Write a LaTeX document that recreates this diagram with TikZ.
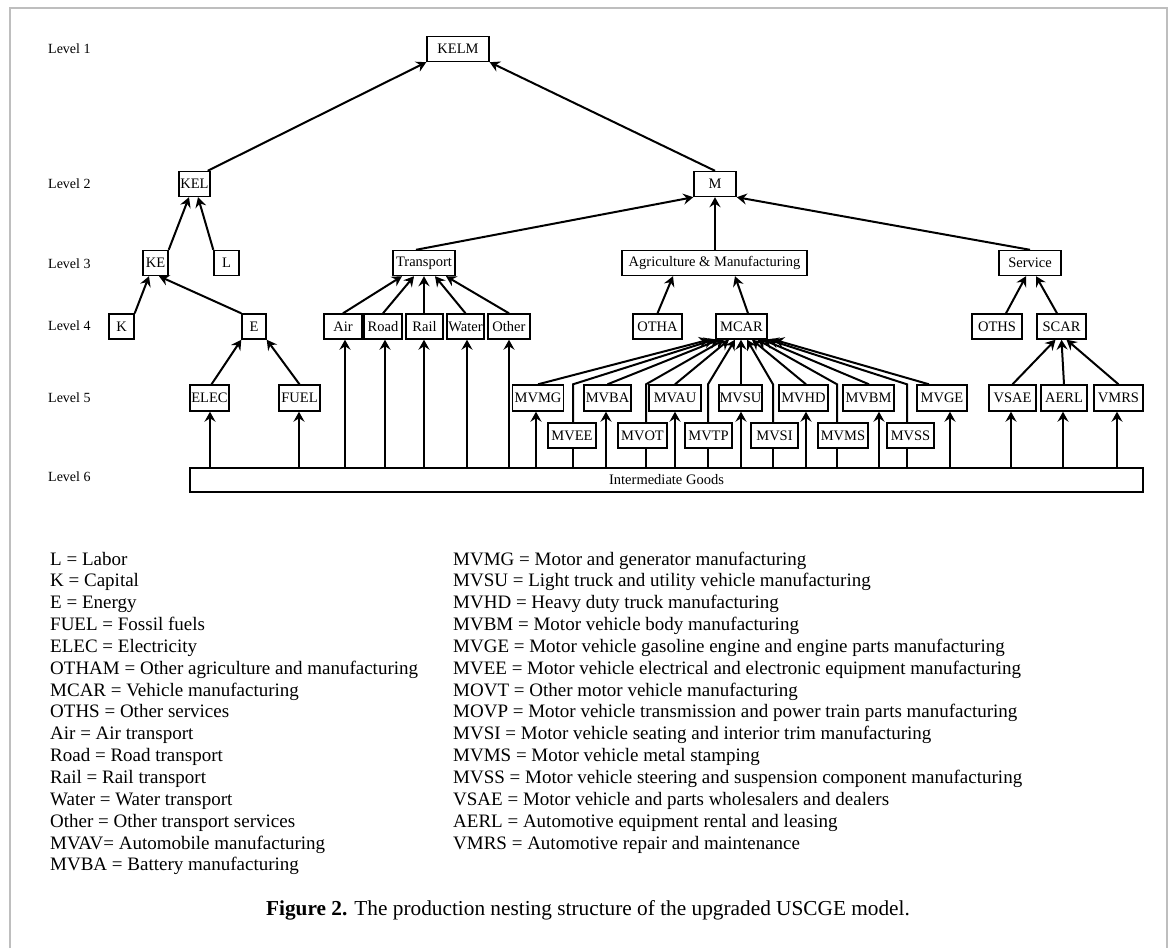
\documentclass[tikz,border=0pt]{standalone}
\usepackage{fontspec}
\setmainfont{Liberation Serif}
\usetikzlibrary{arrows.meta,calc}
\definecolor{framec}{RGB}{190,190,190}
\begin{document}
\begin{tikzpicture}[x=1pt,y=-1pt,
  box/.style={draw,line width=1.4pt,inner sep=0pt,minimum height=25pt,fill=white,font=\fontsize{14.5}{16}\selectfont},
  arr/.style={line width=2pt,-{Stealth[length=10pt,width=11pt,inset=3.5pt]}},
  ln/.style={line width=2pt},
  lvl/.style={anchor=west,inner sep=0pt,font=\fontsize{14}{16}\selectfont},
  lgd/.style={anchor=base west,inner sep=0pt,font=\fontsize{19}{22}\selectfont},
  capt/.style={anchor=base,inner sep=0pt,font=\fontsize{21.3}{24}\selectfont}]
\useasboundingbox (0,0) rectangle (1170,948);
\fill[white] (0,0) rectangle (1170,948);
\draw[framec,line width=1.5pt] (10,948) -- (10,8) -- (1167,8) -- (1167,948);

% level labels
\node[lvl] (lv1) at (48,49) {Level 1};
\node[lvl] (lv2) at (48,184) {Level 2};
\node[lvl] (lv3) at (48,264) {Level 3};
\node[lvl] (lv4) at (48,326) {Level 4};
\node[lvl] (lv5) at (48,398) {Level 5};
\node[lvl] (lv6) at (48,477) {Level 6};

% level 1-3
\node[box,minimum width=62pt] (kelm) at (458,49) {KELM};
\node[box,minimum width=31pt] (kel) at (194.5,184) {KEL};
\node[box,minimum width=42pt] (m) at (715,184) {M};
\node[box,minimum width=25pt] (ke) at (155.5,263) {KE};
\node[box,minimum width=25pt] (l) at (226.5,263) {L};
\node[box,minimum width=62pt] (transport) at (424,263) {Transport};
\node[box,minimum width=185pt] (agri) at (714.5,263) {Agriculture \& Manufacturing};
\node[box,minimum width=62pt] (service) at (1030,263) {Service};

% level 4
\node[box,minimum width=25pt] (k) at (121.5,326.5) {K};
\node[box,minimum width=24pt] (e) at (254,326.5) {E};
\node[box,minimum width=38pt] (air) at (343,326.5) {Air};
\node[box,minimum width=38pt] (road) at (383,326.5) {Road};
\node[box,minimum width=37pt] (rail) at (424.5,326.5) {Rail};
\node[box,minimum width=37pt] (water) at (465.5,326.5) {Water};
\node[box,minimum width=42pt] (other) at (509,326.5) {Other};
\node[box,minimum width=49pt] (otha) at (657.5,326.5) {OTHA};
\node[box,minimum width=51pt] (mcar) at (741.5,326.5) {MCAR};
\node[box,minimum width=50pt] (oths) at (997,326.5) {OTHS};
\node[box,minimum width=49pt] (scar) at (1061.5,326.5) {SCAR};

% level 5 upper
\node[box,minimum width=39pt,minimum height=26pt] (elec) at (209.5,398) {ELEC};
\node[box,minimum width=41pt,minimum height=26pt] (fuel) at (299.5,398) {FUEL};
\node[box,minimum width=51pt,minimum height=26pt] (mvmg) at (538,398) {MVMG};
\node[box,minimum width=47pt,minimum height=26pt] (mvba) at (607.5,398) {MVBA};
\node[box,minimum width=52pt,minimum height=26pt] (mvau) at (675,398) {MVAU};
\node[box,minimum width=43pt,minimum height=26pt] (mvsu) at (740.5,398) {MVSU};
\node[box,minimum width=49pt,minimum height=26pt] (mvhd) at (803.5,398) {MVHD};
\node[box,minimum width=51pt,minimum height=26pt] (mvbm) at (868.5,398) {MVBM};
\node[box,minimum width=50pt,minimum height=26pt] (mvge) at (942,398) {MVGE};
\node[box,minimum width=47pt,minimum height=26pt] (vsae) at (1012.5,398) {VSAE};
\node[box,minimum width=46pt,minimum height=26pt] (aerl) at (1064,398) {AERL};
\node[box,minimum width=49pt,minimum height=26pt] (vmrs) at (1118.5,398) {VMRS};

% level 5 lower
\node[box,minimum width=48pt] (mvee) at (572,435.5) {MVEE};
\node[box,minimum width=49pt] (mvot) at (642.5,435.5) {MVOT};
\node[box,minimum width=47pt] (mvtp) at (708.5,435.5) {MVTP};
\node[box,minimum width=47pt] (mvsi) at (774.5,435.5) {MVSI};
\node[box,minimum width=50pt] (mvms) at (843,435.5) {MVMS};
\node[box,minimum width=47pt] (mvss) at (910.5,435.5) {MVSS};

% level 6
\node[box,minimum width=953pt,minimum height=24pt] (ig) at (666.5,480) {Intermediate Goods};

% connectors level 2 -> 1
\draw[arr] ([xshift=-3pt]kel.north east) -- (kelm.south west);
\draw[arr] (m.north) -- (kelm.south east);
% level 3 -> 2
\draw[arr] (ke.north east) -- ([xshift=-5.5pt]kel.south);
\draw[arr] (l.north west) -- ([xshift=3.5pt]kel.south);
\draw[arr] ([xshift=-8pt]transport.north) -- (m.south west);
\draw[arr] ([xshift=0.5pt]agri.north) -- (m.south);
\draw[arr] (service.north) -- (m.south east);
% level 4 -> 3
\draw[arr] (k.north east) -- ([xshift=-6.5pt]ke.south);
\draw[arr] (e.north west) -- ([xshift=3.5pt]ke.south);
\draw[arr] (air.north) -- ([xshift=-22pt]transport.south);
\draw[arr] (road.north) -- ([xshift=-10pt]transport.south);
\draw[arr] ([xshift=-0.5pt]rail.north) -- (transport.south);
\draw[arr] (water.north) -- ([xshift=11pt]transport.south);
\draw[arr] (other.north) -- ([xshift=22pt]transport.south);
\draw[arr] (otha.north) -- ([xshift=-41.5pt]agri.south);
\draw[arr] ([xshift=6.5pt]mcar.north) -- ([xshift=20.5pt]agri.south);
\draw[arr] ([xshift=9pt]oths.north) -- ([xshift=-4pt]service.south);
\draw[arr] ([xshift=-4.5pt]scar.north) -- ([xshift=6pt]service.south);
% level 5 -> 4
\draw[arr] ([xshift=2pt]elec.north) -- (e.south west);
\draw[arr] (fuel.north) -- (e.south east);
\draw[arr] (mvmg.north) -- ([xshift=-32.5pt]mcar.south);
\draw[arr] ([xshift=1pt]mvee.north) -- ([xshift=1pt]mvee.north |- mvmg.north) -- ([xshift=-27.5pt]mcar.south);
\draw[arr] (mvba.north) -- ([xshift=-22.5pt]mcar.south);
\draw[arr] ([xshift=3.5pt]mvot.north) -- ([xshift=3.5pt]mvot.north |- mvmg.north) -- ([xshift=-17.5pt]mcar.south);
\draw[arr] (mvau.north) -- ([xshift=-12.5pt]mcar.south);
\draw[arr] ([xshift=-0.5pt]mvtp.north) -- ([xshift=-0.5pt]mvtp.north |- mvmg.north) -- ([xshift=-6.5pt]mcar.south);
\draw[arr] ([xshift=0.5pt]mvsu.north) -- ([xshift=-0.5pt]mcar.south);
\draw[arr] ([xshift=-1.5pt]mvsi.north) -- ([xshift=-1.5pt]mvsi.north |- mvmg.north) -- ([xshift=5.5pt]mcar.south);
\draw[arr] ([xshift=2.5pt]mvhd.north) -- ([xshift=10.5pt]mcar.south);
\draw[arr] ([xshift=-6pt]mvms.north) -- ([xshift=-6pt]mvms.north |- mvmg.north) -- ([xshift=16pt]mcar.south);
\draw[arr] ([xshift=0.5pt]mvbm.north) -- ([xshift=21.5pt]mcar.south);
\draw[arr] ([xshift=-3.5pt]mvss.north) -- ([xshift=-3.5pt]mvss.north |- mvmg.north) -- ([xshift=27pt]mcar.south);
\draw[arr] ([xshift=-13pt]mvge.north) -- ([xshift=32.5pt]mcar.south);
\draw[arr] (vsae.north) -- ([xshift=-6pt]scar.south);
\draw[arr] (aerl.north) -- (scar.south);
\draw[arr] (vmrs.north) -- ([xshift=5pt]scar.south);
% level 6 -> 5 / 4
\draw[arr] ([xshift=0.5pt]elec.south |- ig.north) -- ([xshift=0.5pt]elec.south);
\draw[arr] ([xshift=-0.5pt]fuel.south |- ig.north) -- ([xshift=-0.5pt]fuel.south);
\draw[arr] ([xshift=2pt]air.south |- ig.north) -- ([xshift=2pt]air.south);
\draw[arr] ([xshift=2pt]road.south |- ig.north) -- ([xshift=2pt]road.south);
\draw[arr] ([xshift=-0.5pt]rail.south |- ig.north) -- ([xshift=-0.5pt]rail.south);
\draw[arr] ([xshift=1.5pt]water.south |- ig.north) -- ([xshift=1.5pt]water.south);
\draw[arr] (other.south |- ig.north) -- (other.south);
\draw[arr] ([xshift=-2pt]mvmg.south |- ig.north) -- ([xshift=-2pt]mvmg.south);
\draw[ln] ([xshift=1pt]mvee.south |- ig.north) -- ([xshift=1pt]mvee.south);
\draw[arr] ([xshift=-1.5pt]mvba.south |- ig.north) -- ([xshift=-1.5pt]mvba.south);
\draw[ln] ([xshift=3.5pt]mvot.south |- ig.north) -- ([xshift=3.5pt]mvot.south);
\draw[arr] (mvau.south |- ig.north) -- (mvau.south);
\draw[ln] ([xshift=-0.5pt]mvtp.south |- ig.north) -- ([xshift=-0.5pt]mvtp.south);
\draw[arr] ([xshift=0.5pt]mvsu.south |- ig.north) -- ([xshift=0.5pt]mvsu.south);
\draw[ln] ([xshift=-1.5pt]mvsi.south |- ig.north) -- ([xshift=-1.5pt]mvsi.south);
\draw[arr] ([xshift=2.5pt]mvhd.south |- ig.north) -- ([xshift=2.5pt]mvhd.south);
\draw[ln] ([xshift=-6pt]mvms.south |- ig.north) -- ([xshift=-6pt]mvms.south);
\draw[arr] ([xshift=10.5pt]mvbm.south |- ig.north) -- ([xshift=10.5pt]mvbm.south);
\draw[ln] ([xshift=-3.5pt]mvss.south |- ig.north) -- ([xshift=-3.5pt]mvss.south);
\draw[arr] ([xshift=8pt]mvge.south |- ig.north) -- ([xshift=8pt]mvge.south);
\draw[arr] ([xshift=-1.5pt]vsae.south |- ig.north) -- ([xshift=-1.5pt]vsae.south);
\draw[arr] ([xshift=-1pt]aerl.south |- ig.north) -- ([xshift=-1pt]aerl.south);
\draw[arr] ([xshift=-1.5pt]vmrs.south |- ig.north) -- ([xshift=-1.5pt]vmrs.south);

% legend
\foreach \t [count=\i from 0] in {{L = Labor},{K = Capital},{E = Energy},{FUEL = Fossil fuels},{ELEC = Electricity},{OTHAM = Other agriculture and manufacturing},{MCAR = Vehicle manufacturing},{OTHS = Other services},{Air = Air transport},{Road = Road transport},{Rail = Rail transport},{Water = Water transport},{Other = Other transport services},{MVAV= Automobile manufacturing},{MVBA = Battery manufacturing}}
  \node[lgd] (lgl\i) at (50,565+21.85*\i) {\t};
\foreach \t [count=\i from 0] in {{MVMG = Motor and generator manufacturing},{MVSU = Light truck and utility vehicle manufacturing},{MVHD = Heavy duty truck manufacturing},{MVBM = Motor vehicle body manufacturing},{MVGE = Motor vehicle gasoline engine and engine parts manufacturing},{MVEE = Motor vehicle electrical and electronic equipment manufacturing},{MOVT = Other motor vehicle manufacturing},{MOVP = Motor vehicle transmission and power train parts manufacturing},{MVSI = Motor vehicle seating and interior trim manufacturing},{MVMS = Motor vehicle metal stamping},{MVSS = Motor vehicle steering and suspension component manufacturing},{VSAE = Motor vehicle and parts wholesalers and dealers},{AERL = Automotive equipment rental and leasing},{VMRS = Automotive repair and maintenance}}
  \node[lgd] (lgr\i) at (453,565+21.85*\i) {\t};

% caption
\node[capt] (cap) at (588,915) {\textbf{Figure 2.} The production nesting structure of the upgraded USCGE model.};
\end{tikzpicture}
\end{document}
